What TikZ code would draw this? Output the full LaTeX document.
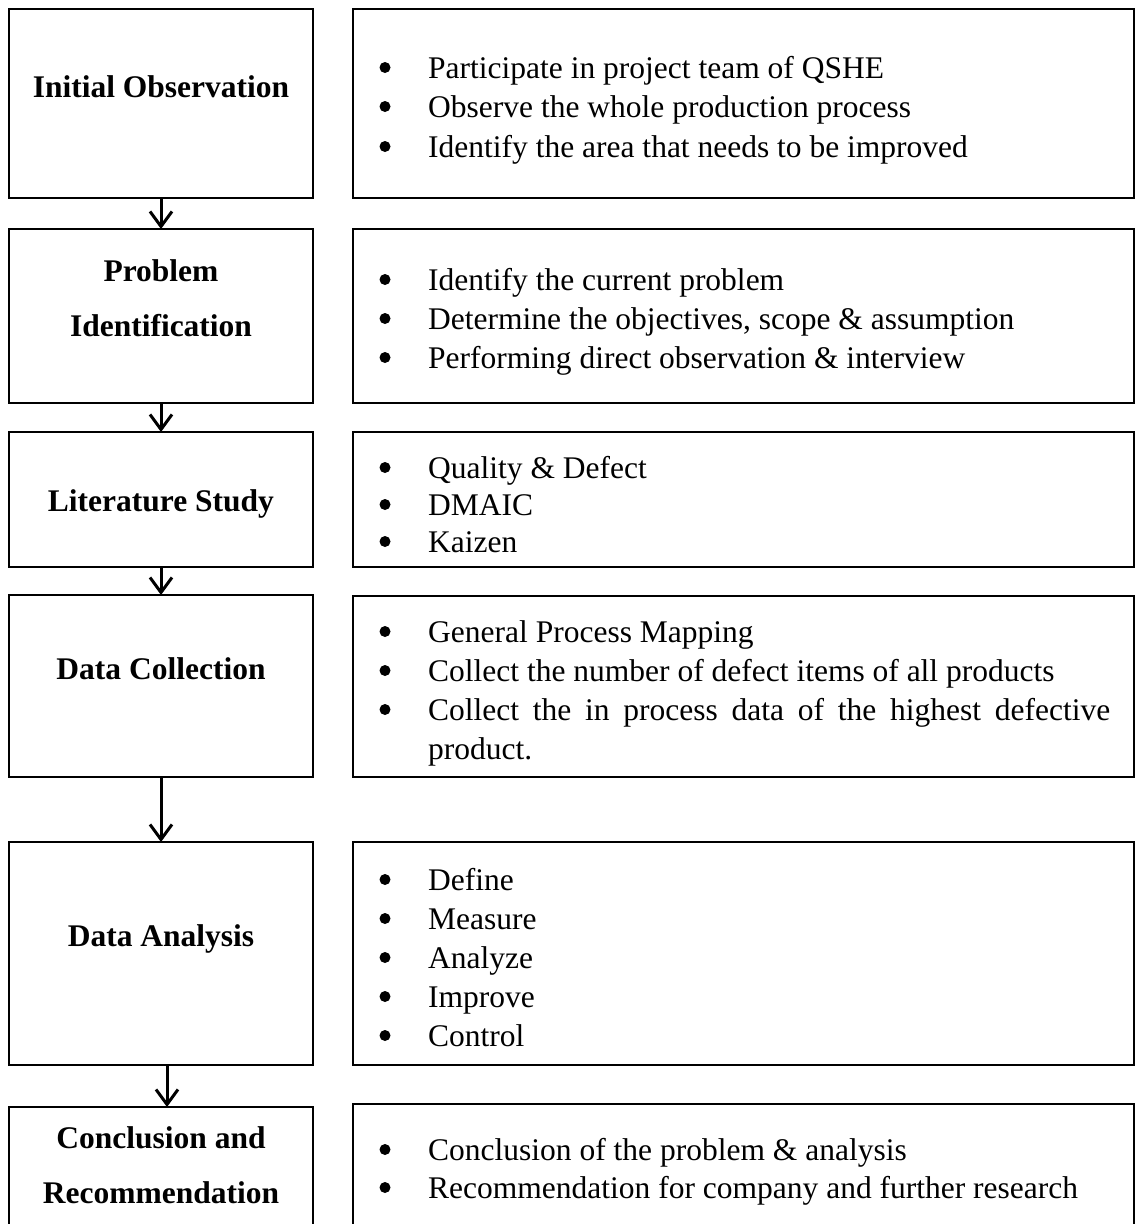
\documentclass[tikz,border=0pt]{standalone}
\usepackage{fontspec}
\setmainfont{Liberation Serif}
\usetikzlibrary{arrows.meta}
\newcommand\bitem[3]{%
  \node[dotb] (#1d) at (385,#2-10.5) {};
  \node[itm] (#1) at (428,#2) {#3};}
\begin{document}
\begin{tikzpicture}[x=1pt,y=-1pt,
  box/.style={draw, line width=2pt, inner sep=0pt, outer sep=0pt, anchor=north west},
  flow/.style={line width=3pt, -{Straight Barb[length=15pt,width=22pt,line width=3pt]}},
  lab/.style={font=\fontsize{31.5}{39}\selectfont\bfseries, anchor=base, inner sep=0pt},
  itm/.style={font=\fontsize{31.5}{39}\selectfont, anchor=base west, inner sep=0pt},
  dotb/.style={circle, fill=black, draw=none, minimum size=11pt, inner sep=0pt}]
\useasboundingbox (0,0) rectangle (1136,1224);
% left boxes
\node[box, minimum width=304pt, minimum height=189pt] (L1) at (9,9) {};
\node[box, minimum width=304pt, minimum height=174pt] (L2) at (9,229) {};
\node[box, minimum width=304pt, minimum height=135pt] (L3) at (9,432) {};
\node[box, minimum width=304pt, minimum height=182pt] (L4) at (9,595) {};
\node[box, minimum width=304pt, minimum height=223pt] (L5) at (9,842) {};
\node[box, minimum width=304pt, minimum height=160pt] (L6) at (9,1107) {};
% right boxes
\node[box, minimum width=781pt, minimum height=189pt] (R1) at (353,9) {};
\node[box, minimum width=781pt, minimum height=174pt] (R2) at (353,229) {};
\node[box, minimum width=781pt, minimum height=135pt] (R3) at (353,432) {};
\node[box, minimum width=781pt, minimum height=181pt] (R4) at (353,596) {};
\node[box, minimum width=781pt, minimum height=223pt] (R5) at (353,842) {};
\node[box, minimum width=781pt, minimum height=160pt] (R6) at (353,1104) {};
% arrows
\draw[flow] (L1.south) -- (L2.north);
\draw[flow] (L2.south) -- (L3.north);
\draw[flow] (L3.south) -- (L4.north);
\draw[flow] (L4.south) -- (L5.north);
\draw[flow] ([xshift=6pt]L5.south) -- ([xshift=6pt]L6.north);
% left labels
\node[lab] (t1) at (161,97) {Initial Observation};
\node[lab] (t2a) at (161,281) {Problem};
\node[lab] (t2b) at (161,336) {Identification};
\node[lab] (t3) at (161,511) {Literature Study};
\node[lab] (t4) at (161,679) {Data Collection};
\node[lab] (t5) at (161,946) {Data Analysis};
\node[lab] (t6a) at (161,1148) {Conclusion and};
\node[lab] (t6b) at (161,1203) {Recommendation};
% right items
\bitem{ra}{78}{Participate in project team of QSHE}
\bitem{rb}{117}{Observe the whole production process}
\bitem{rc}{157}{Identify the area that needs to be improved}
\bitem{rd}{290}{Identify the current problem}
\bitem{re}{329}{Determine the objectives, scope \& assumption}
\bitem{rf}{368}{Performing direct observation \& interview}
\bitem{rg}{478}{Quality \& Defect}
\bitem{rh}{515}{DMAIC}
\bitem{ri}{552}{Kaizen}
\bitem{rj}{642}{General Process Mapping}
\bitem{rk}{681}{Collect the number of defect items of all products}
\bitem{rl}{720}{\makebox[682pt][s]{Collect the in process data of the highest defective}}
\node[itm] (rm) at (428,759) {product.};
\bitem{rn}{890}{Define}
\bitem{ro}{929}{Measure}
\bitem{rp}{968}{Analyze}
\bitem{rq}{1007}{Improve}
\bitem{rr}{1046}{Control}
\bitem{rs}{1160}{Conclusion of the problem \& analysis}
\bitem{rt}{1198}{Recommendation for company and further research}
\end{tikzpicture}
\end{document}
